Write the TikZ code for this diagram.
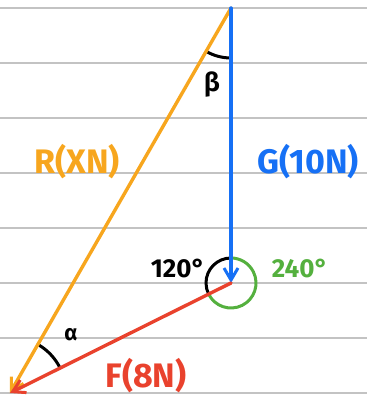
\documentclass[tikz,border=0pt]{standalone}
\usepackage{fontspec}
\setmainfont{Fira Sans}
\usepackage{tikz}
\usetikzlibrary{arrows.meta}
\definecolor{forceorange}{RGB}{247,166,30}
\definecolor{forceblue}{RGB}{22,112,245}
\definecolor{forcered}{RGB}{233,66,45}
\definecolor{anglegreen}{RGB}{84,176,62}
\definecolor{rulegray}{RGB}{195,195,195}

\begin{document}
\begin{tikzpicture}[x=1pt,y=1pt,
  force/.style={line width=3.4pt,line cap=round,-{Straight Barb[length=12pt,width=14pt,line width=3pt]}},
  anglearc/.style={line width=3pt,line cap=round}]
% 力的三角形
\useasboundingbox (0,0) rectangle (367,402);
\foreach \y in {9,64,119,174,229,284,339,394}
  \draw[rulegray,line width=1.2pt] (0,\y) -- (367,\y);

\coordinate (apex) at (231,394);
\coordinate (O) at (231,119);
\coordinate (A) at (10,9);

\draw[anglearc,black] (O) ++(90:25) arc[start angle=90,end angle=206.5,radius=25];
\draw[anglearc,anglegreen] (O) ++(206.5:25) arc[start angle=206.5,end angle=450,radius=25];
\draw[anglearc,black] (apex) ++(240.1:50) arc[start angle=240.1,end angle=270,radius=50];
\draw[anglearc,black] (A) ++(26.5:56) arc[start angle=26.5,end angle=60.1,radius=56];

\draw[force,forceorange] (apex) -- (A);
\draw[force,forceblue] (apex) -- (O);
\draw[force,forcered] (O) -- (A);

\node[forceorange,font=\fontsize{34}{38}\bfseries] (rlab) at (77,240) {R(XN)};
\node[forceblue,font=\fontsize{34}{38}\bfseries] (glab) at (308,240) {G(10N)};
\node[forcered,font=\fontsize{34}{38}\bfseries] (flab) at (146,26) {F(8N)};
\node[black,font=\fontsize{26}{30}\bfseries] (lab120) at (178,134) {120°};
\node[anglegreen,font=\fontsize{26}{30}\bfseries] (lab240) at (300,134) {240°};
\node[black,font=\fontsize{26}{30}\bfseries] (beta) at (212,317) {β};
\node[black,font=\fontsize{22}{26}\bfseries] (alpha) at (71,67) {α};
\end{tikzpicture}
\end{document}
